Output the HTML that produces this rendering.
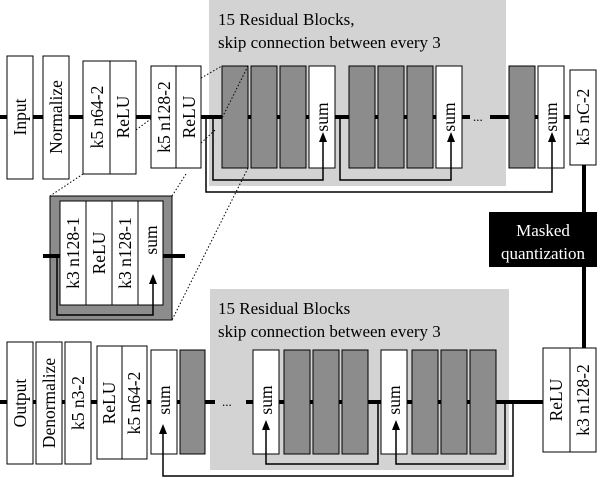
<!DOCTYPE html>
<html><head><style>
body{margin:0;background:#fff}
svg text{font-family:"Liberation Serif",serif;fill:#000}
</style></head><body>
<svg width="603" height="480" xmlns="http://www.w3.org/2000/svg">
<rect x="209" y="0" width="297" height="186" fill="#d3d3d3"/>
<rect x="210" y="289" width="299" height="181" fill="#d3d3d3"/>
<text x="218" y="25" font-size="17">15 Residual Blocks,</text>
<text x="218" y="48" font-size="17">skip connection between every 3</text>
<text x="218" y="314" font-size="17">15 Residual Blocks</text>
<text x="218" y="337" font-size="17">skip connection between every 3</text>
<!-- top main line -->
<line x1="0" y1="117" x2="470" y2="117" stroke="#000" stroke-width="4"/>
<line x1="490" y1="117" x2="570" y2="117" stroke="#000" stroke-width="4"/>
<text x="473" y="121" font-size="13">...</text>
<g stroke="#000" stroke-width="1">
<rect x="7" y="56" width="26" height="123" fill="#fff"/>
<rect x="43" y="56" width="26" height="123" fill="#fff"/>
<rect x="83" y="61" width="53" height="113" fill="#fff"/><line x1="110" y1="61" x2="110" y2="174"/>
<rect x="151" y="66" width="50" height="102" fill="#fff"/><line x1="176" y1="66" x2="176" y2="168"/>
<g fill="#8c8c8c">
<rect x="222" y="66" width="26" height="102"/><rect x="251" y="66" width="26" height="102"/><rect x="280" y="66" width="26" height="102"/>
<rect x="349" y="66" width="26" height="102"/><rect x="378" y="66" width="26" height="102"/><rect x="407" y="66" width="26" height="102"/>
<rect x="509" y="66" width="26" height="102"/>
</g>
<rect x="309" y="66" width="26" height="102" fill="#fff"/>
<rect x="436" y="66" width="26" height="102" fill="#fff"/>
<rect x="538" y="66" width="26" height="102" fill="#fff"/>
<rect x="570" y="70" width="26" height="95" fill="#fff"/>
</g>
<g fill="none" stroke="#000" stroke-width="1.5">
<path d="M213,117 V180 H323 V140"/>
<path d="M340,117 V180 H451 V140"/>
<path d="M206,117 V192 H552 V140"/>
</g>
<g fill="#000">
<path d="M319,142 L323,132 L327,142Z"/><path d="M447,142 L451,132 L455,142Z"/><path d="M548,142 L552,132 L556,142Z"/>
</g>
<g font-size="17.5" text-anchor="middle">
<text transform="translate(20,117) rotate(-90)" dy="0.35em">Input</text>
<text transform="translate(56,117) rotate(-90)" dy="0.35em">Normalize</text>
<text transform="translate(97,117) rotate(-90)" dy="0.35em">k5 n64-2</text>
<text transform="translate(123,117) rotate(-90)" dy="0.35em">ReLU</text>
<text transform="translate(164,117) rotate(-90)" dy="0.35em">k5 n128-2</text>
<text transform="translate(189,117) rotate(-90)" dy="0.35em">ReLU</text>
<text transform="translate(322,117) rotate(-90)" dy="0.35em">sum</text>
<text transform="translate(449,117) rotate(-90)" dy="0.35em">sum</text>
<text transform="translate(551,117) rotate(-90)" dy="0.35em">sum</text>
<text transform="translate(583,117) rotate(-90)" dy="0.35em">k5 nC-2</text>
</g>
<line x1="584" y1="165" x2="584" y2="348" stroke="#000" stroke-width="4"/>
<rect x="489" y="212" width="108" height="55" fill="#000"/>
<text x="543" y="236" font-size="17" text-anchor="middle" style="fill:#fff">Masked</text>
<text x="543" y="259" font-size="17" text-anchor="middle" style="fill:#fff">quantization</text>
<!-- inset -->
<rect x="50" y="196" width="122" height="124" fill="#8c8c8c" stroke="#000"/>
<rect x="60" y="201" width="103" height="104" fill="#fff" stroke="#000"/>
<g stroke="#000"><line x1="86" y1="201" x2="86" y2="305"/><line x1="112" y1="201" x2="112" y2="305"/><line x1="138" y1="201" x2="138" y2="305"/></g>
<line x1="43" y1="256" x2="60" y2="256" stroke="#000" stroke-width="4"/>
<line x1="163" y1="256" x2="185" y2="256" stroke="#000" stroke-width="4"/>
<path d="M57,256 V315 H153 V282" fill="none" stroke="#000" stroke-width="1.5"/>
<path d="M149,284 L153,274 L157,284Z" fill="#000"/>
<g font-size="17.5" text-anchor="middle">
<text transform="translate(73,253) rotate(-90)" dy="0.35em">k3 n128-1</text>
<text transform="translate(99,253) rotate(-90)" dy="0.35em">ReLU</text>
<text transform="translate(125,253) rotate(-90)" dy="0.35em">k3 n128-1</text>
<text transform="translate(151,240) rotate(-90)" dy="0.35em">sum</text>
</g>
<g stroke="#000" stroke-width="1" stroke-dasharray="1.5,2">
<line x1="83" y1="174" x2="50" y2="196"/><line x1="186" y1="174" x2="172" y2="196"/>
<line x1="248" y1="66" x2="222" y2="118"/><line x1="248" y1="168" x2="172" y2="320"/>
<line x1="201" y1="78" x2="222" y2="66"/><line x1="201" y1="143" x2="215" y2="130"/>
<line x1="136" y1="130" x2="152" y2="118"/>
</g>
<!-- bottom -->
<line x1="0" y1="402" x2="215" y2="402" stroke="#000" stroke-width="4"/>
<line x1="246" y1="402" x2="543" y2="402" stroke="#000" stroke-width="4"/>
<text x="222" y="406" font-size="13">...</text>
<g stroke="#000" stroke-width="1">
<rect x="7" y="342" width="26" height="122" fill="#fff"/>
<rect x="36" y="342" width="26" height="122" fill="#fff"/>
<rect x="65" y="342" width="26" height="122" fill="#fff"/>
<rect x="97" y="346" width="50" height="113" fill="#fff"/><line x1="122" y1="346" x2="122" y2="459"/>
<rect x="151" y="350" width="26" height="104" fill="#fff"/>
<rect x="253" y="350" width="26" height="104" fill="#fff"/>
<rect x="381" y="350" width="26" height="104" fill="#fff"/>
<g fill="#8c8c8c">
<rect x="180" y="350" width="25" height="104"/>
<rect x="284" y="350" width="26" height="104"/><rect x="313" y="350" width="26" height="104"/><rect x="342" y="350" width="26" height="104"/>
<rect x="412" y="350" width="26" height="104"/><rect x="441" y="350" width="26" height="104"/><rect x="470" y="350" width="26" height="104"/>
</g>
<rect x="543" y="348" width="53" height="104" fill="#fff"/><line x1="570" y1="348" x2="570" y2="452"/>
</g>
<g fill="none" stroke="#000" stroke-width="1.5">
<path d="M378,402 V464 H266 V428"/><path d="M505,402 V464 H396 V428"/><path d="M513,402 V476 H163 V432"/>
</g>
<g fill="#000">
<path d="M262,430 L266,420 L270,430Z"/><path d="M392,430 L396,420 L400,430Z"/><path d="M159,434 L163,424 L167,434Z"/>
</g>
<g font-size="17.5" text-anchor="middle">
<text transform="translate(20,403) rotate(-90)" dy="0.35em">Output</text>
<text transform="translate(49,403) rotate(-90)" dy="0.35em">Denormalize</text>
<text transform="translate(78,403) rotate(-90)" dy="0.35em">k5 n3-2</text>
<text transform="translate(109,403) rotate(-90)" dy="0.35em">ReLU</text>
<text transform="translate(134,403) rotate(-90)" dy="0.35em">k5 n64-2</text>
<text transform="translate(164,400) rotate(-90)" dy="0.35em">sum</text>
<text transform="translate(266,400) rotate(-90)" dy="0.35em">sum</text>
<text transform="translate(394,400) rotate(-90)" dy="0.35em">sum</text>
<text transform="translate(556,400) rotate(-90)" dy="0.35em">ReLU</text>
<text transform="translate(583,400) rotate(-90)" dy="0.35em">k3 n128-2</text>
</g>
</svg>
</body></html>
